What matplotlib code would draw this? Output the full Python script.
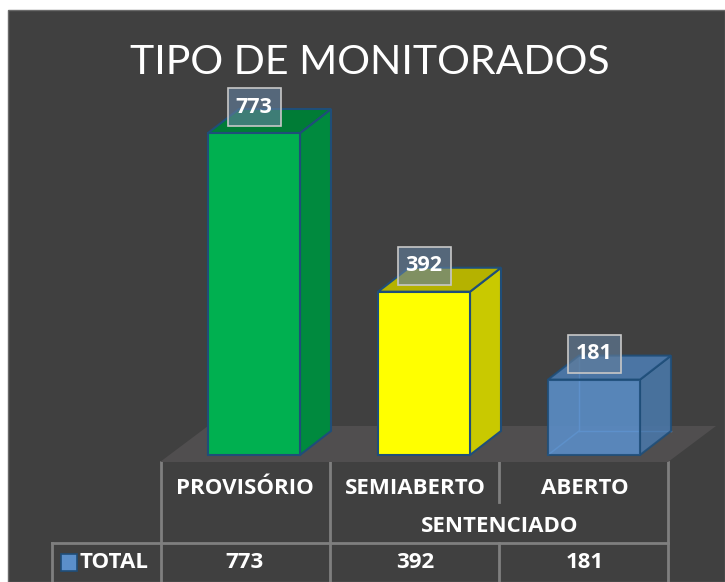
import matplotlib
matplotlib.use("Agg")
import matplotlib.pyplot as plt
import matplotlib.transforms as mtransforms
from matplotlib.patches import Rectangle, Polygon
from matplotlib.lines import Line2D

plt.rcParams['font.family'] = ['Lato', 'DejaVu Sans']
BOLD_FAMILY = ['Open Sans', 'DejaVu Sans']

# ---------------- data ----------------
title = "TIPO DE MONITORADOS"
categories = ["PROVISÓRIO", "SEMIABERTO", "ABERTO"]
group_label = "SENTENCIADO"
group_span = [1, 2]
series_name = "TOTAL"
values = [773, 392, 181]

# ---------------- style ----------------
front_colors = ["#00b050", "#ffff00", "#5b8fca"]
side_colors = ["#008a3e", "#c9c900", "#4a78aa"]
top_colors = ["#007c36", "#b5b200", "#4d7db3"]
bar_alpha = [1.0, 1.0, 0.88]
edge_color = "#1f4e79"
bg_color = "#404040"
floor_color = "#504e4f"
grid_color = "#7f7f7f"
TS = 16

W, H = 725, 582
fig = plt.figure(figsize=(W / 100, H / 100), dpi=100)
fig.patch.set_facecolor("white")


def fx(px):
    return px / W


def fy(py):
    return 1 - py / H


# background panel
fig.patches.append(Rectangle((fx(8), 0), 1 - fx(8), fy(10), transform=fig.transFigure,
                             facecolor=bg_color, edgecolor="#6a6a6a", lw=1, zorder=-10))

# ---------------- bar axes ----------------
PPU = 322 / 773.0          # pixels per value unit
PX_COL = 170.0             # pixels per category
YMAX = 900
ax = fig.add_axes([fx(160), fy(455), (670 - 160) / W, YMAX * PPU / H])
ax.set_xlim(-0.5, 2.5)
ax.set_ylim(0, YMAX)
ax.axis("off")
ax.patch.set_alpha(0)
ax.set_zorder(5)

DX = 31 / PX_COL
DY = 24 / PPU
BW = 92 / PX_COL
SHIFT = 9 / PX_COL

# floor
fl = [(-0.5, -7 / PPU), (-0.5 + 508 / PX_COL, -7 / PPU),
      (-0.5 + 556 / PX_COL, 29 / PPU), (-0.5 + 48 / PX_COL, 29 / PPU)]
ax.add_patch(Polygon(fl, closed=True, facecolor=floor_color, edgecolor="none",
                     clip_on=False, zorder=1))

for i, v in enumerate(values):
    x0 = i + SHIFT - BW / 2
    x1 = x0 + BW
    a = bar_alpha[i]
    if a < 1:
        # hidden edges visible through translucent bar
        for xs, ys in [([x0 + DX, x0 + DX], [DY, v + DY]),
                       ([x0, x0 + DX], [0, DY]),
                       ([x0 + DX, x1 + DX], [DY, DY])]:
            ax.add_line(Line2D(xs, ys, color="#6f9fd4", lw=1, clip_on=False, zorder=2))
    side = [(x1, 0), (x1 + DX, DY), (x1 + DX, v + DY), (x1, v)]
    top = [(x0, v), (x0 + DX, v + DY), (x1 + DX, v + DY), (x1, v)]
    ax.add_patch(Polygon(side, closed=True, facecolor=side_colors[i], alpha=a,
                         edgecolor=edge_color, lw=1.5, clip_on=False, zorder=3))
    ax.add_patch(Polygon(top, closed=True, facecolor=top_colors[i], alpha=a,
                         edgecolor=edge_color, lw=1.5, clip_on=False, zorder=3))
    ax.add_patch(Rectangle((x0, 0), BW, v, facecolor=front_colors[i], alpha=a,
                           edgecolor=edge_color, lw=1.5, clip_on=False, zorder=4))
    # data label box
    bw = 53 / PX_COL
    bh = 38 / PPU
    gap = 7 / PPU
    cx = i + SHIFT
    ax.add_patch(Rectangle((cx - bw / 2, v + gap), bw, bh,
                           facecolor=(0.384, 0.494, 0.608, 0.64), edgecolor="#c8c8c8",
                           lw=1.2, clip_on=False, zorder=5))
    ax.text(cx, v + gap + bh / 2, f"{v}", color="white", fontsize=15.5, fontweight="bold",
            family=BOLD_FAMILY, ha="center", va="center", zorder=6, clip_on=False)

# ---------------- title ----------------
fig.text(fx(370), fy(63), title, color="white", fontsize=29.5, fontweight="normal",
         ha="center", va="center")

# ---------------- data table ----------------
tr = mtransforms.blended_transform_factory(ax.transData, fig.transFigure)


def fline(x0, y0, x1, y1):
    fig.add_artist(Line2D([fx(x0), fx(x1)], [fy(y0), fy(y1)], transform=fig.transFigure,
                          color=grid_color, lw=2, zorder=2))


fline(161, 462, 161, 582)
fline(330, 462, 330, 582)
fline(499, 462, 499, 502)
fline(499, 543, 499, 582)
fline(668, 462, 668, 582)
fline(52, 543, 668, 543)
fline(52, 543, 52, 582)

for i, c in enumerate(categories):
    fig.text(i, fy(488), c, transform=tr, color="white", fontsize=TS,
             fontweight="bold", family=BOLD_FAMILY, ha="center", va="center")
    fig.text(i, fy(563), f"{values[i]}", transform=tr, color="white", fontsize=TS,
             fontweight="bold", family=BOLD_FAMILY, ha="center", va="center")

fig.text(sum(group_span) / len(group_span), fy(527), group_label, transform=tr,
         color="white", fontsize=TS, fontweight="bold", family=BOLD_FAMILY,
         ha="center", va="center")

# legend key
fig.patches.append(Rectangle((fx(61), fy(571)), 16 / W, 17 / H, transform=fig.transFigure,
                             facecolor=front_colors[2], edgecolor=edge_color, lw=1.2,
                             zorder=3))
fig.text(fx(80), fy(563), series_name, color="white", fontsize=TS, fontweight="bold",
         family=BOLD_FAMILY, ha="left", va="center")

fig.savefig("out.png", dpi=100)
